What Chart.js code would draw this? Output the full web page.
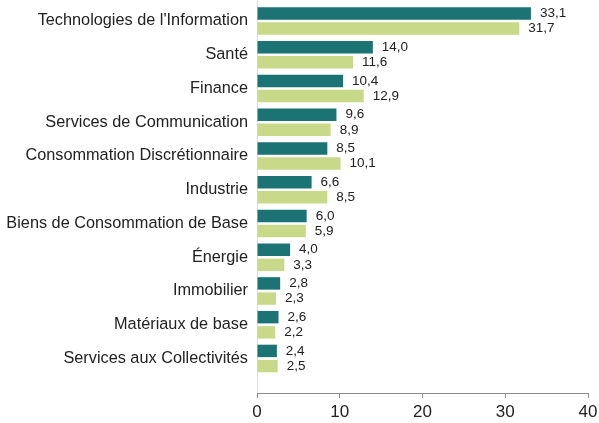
<!DOCTYPE html>
<html>
<head>
<meta charset="utf-8">
<script src="https://cdn.jsdelivr.net/npm/chart.js@4.4.1/dist/chart.umd.min.js"></script>
<style>
  html, body { margin: 0; padding: 0; background: #fff; }
  #wrap { width: 599px; height: 423px; position: relative; }
</style>
</head>
<body>
<div id="wrap"><canvas id="chart"></canvas></div>
<script>
const categories = [
  "Technologies de l'Information",
  "Santé",
  "Finance",
  "Services de Communication",
  "Consommation Discrétionnaire",
  "Industrie",
  "Biens de Consommation de Base",
  "Énergie",
  "Immobilier",
  "Matériaux de base",
  "Services aux Collectivités"
];
const seriesA = [33.1, 14.0, 10.4, 9.6, 8.5, 6.6, 6.0, 4.0, 2.8, 2.6, 2.4];
const seriesB = [31.7, 11.6, 12.9, 8.9, 10.1, 8.5, 5.9, 3.3, 2.3, 2.2, 2.5];
const xTicks = [0, 10, 20, 30, 40];

const FONT = '"Liberation Sans", Arial, sans-serif';
const TEXT = '#222';

// bars sit on a linear index axis so the x axis can hang a bit below the last row
const toPoints = vals => vals.map((v, i) => ({ x: v, y: i }));

const valueLabels = {
  id: 'valueLabels',
  afterDatasetsDraw(chart) {
    const ctx = chart.ctx;
    ctx.save();
    ctx.font = '13.5px ' + FONT;
    ctx.fillStyle = TEXT;
    ctx.textAlign = 'left';
    ctx.textBaseline = 'middle';
    chart.data.datasets.forEach((ds, di) => {
      chart.getDatasetMeta(di).data.forEach((bar, i) => {
        const txt = ds.data[i].x.toFixed(1).replace('.', ',');
        ctx.fillText(txt, bar.x + 9, bar.y);
      });
    });
    ctx.restore();
  }
};

new Chart(document.getElementById('chart'), {
  type: 'bar',
  data: {
    datasets: [
      {
        label: 'Série 1',
        data: toPoints(seriesA),
        backgroundColor: '#1b7373',
        categoryPercentage: 0.9,
        barPercentage: 0.82
      },
      {
        label: 'Série 2',
        data: toPoints(seriesB),
        backgroundColor: '#c8da8a',
        categoryPercentage: 0.9,
        barPercentage: 0.82
      }
    ]
  },
  options: {
    indexAxis: 'y',
    responsive: true,
    maintainAspectRatio: false,
    animation: false,
    layout: { padding: { top: 0, right: 11, bottom: 0, left: 0 } },
    plugins: {
      legend: { display: false },
      tooltip: { enabled: false }
    },
    scales: {
      y: {
        type: 'linear',
        reverse: true,
        offset: false,
        min: -0.622,
        max: 11.022,
        afterBuildTicks: s => { s.ticks = categories.map((c, i) => ({ value: i })); },
        afterFit: s => { s.width = 257; s.paddingTop = 0; s.paddingBottom = 0; },
        grid: { display: false, drawTicks: false, tickLength: 0, offset: false },
        border: { display: true, color: '#dcdcdc', width: 1 },
        ticks: {
          autoSkip: false,
          padding: 9,
          color: TEXT,
          font: { family: FONT, size: 16.3 },
          callback: v => categories[v] ?? ''
        }
      },
      x: {
        type: 'linear',
        min: 0,
        max: 40,
        afterBuildTicks: s => { s.ticks = xTicks.map(v => ({ value: v })); },
        afterFit: s => { s.height = 30; s.paddingLeft = 0; s.paddingRight = 0; },
        grid: { drawOnChartArea: false, tickLength: 5, color: '#8c8c8c' },
        border: { color: '#8c8c8c', width: 1 },
        ticks: {
          padding: 4,
          color: TEXT,
          font: { family: FONT, size: 17 }
        }
      }
    }
  },
  plugins: [valueLabels]
});
</script>
</body>
</html>
